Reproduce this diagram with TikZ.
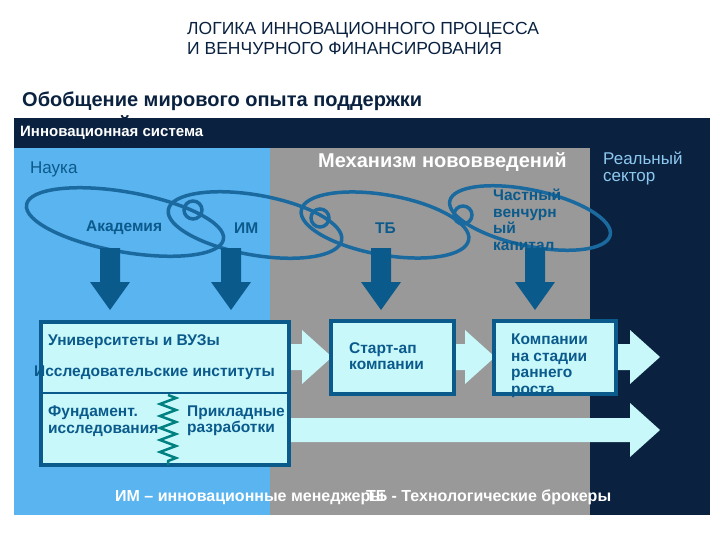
\documentclass[tikz,border=0pt]{standalone}
\usepackage{fontspec}
\setmainfont{Liberation Sans}
\usetikzlibrary{decorations.pathmorphing}
\definecolor{navy}{HTML}{0A2240}
\definecolor{sky}{HTML}{5AB4F0}
\definecolor{gr}{HTML}{999999}
\definecolor{dblue}{HTML}{0B5A8C}
\definecolor{loop}{HTML}{1A6AA0}
\definecolor{cyanbox}{HTML}{C8F8FA}
\definecolor{teal2}{HTML}{008080}
\definecolor{rs}{HTML}{8EC8F0}
\tikzset{
 lbl/.style={inner sep=0pt,anchor=west,font=\bfseries\fontsize{15.5}{16.5}\selectfont},
 boxs/.style={draw=dblue,line width=4pt,fill=cyanbox,inner sep=0pt},
 lp/.style={draw=loop,line width=3.5pt},
 dn/.pic={\fill[dblue] (-10,-34) -- (10,-34) -- (10,0) -- (20,0) -- (0,28) -- (-20,0) -- (-10,0) -- cycle;},
}
\newcommand{\larrow}[5]{% x1 x2 yc shafthalf headhalf
 \fill[cyanbox] (#1,#3-#4) -- (#2-30,#3-#4) -- (#2-30,#3-#5) -- (#2,#3) -- (#2-30,#3+#5) -- (#2-30,#3+#4) -- (#1,#3+#4) -- cycle;}
\begin{document}
\begin{tikzpicture}[x=1pt,y=-1pt]
\useasboundingbox[fill=white] (0,0) rectangle (720,540);
\node[anchor=west,inner sep=0pt,text=navy,font=\fontsize{17.5}{20}\selectfont,align=left] (title) at (187,38) {ЛОГИКА ИННОВАЦИОННОГО ПРОЦЕССА\\И ВЕНЧУРНОГО ФИНАНСИРОВАНИЯ};
\node[anchor=west,inner sep=0pt,text=navy,font=\bfseries\fontsize{20}{21}\selectfont] (sub) at (22,101) {Обобщение мирового опыта поддержки};
\node[anchor=west,inner sep=0pt,text=navy,font=\bfseries\fontsize{20}{21}\selectfont] (sub2) at (22,125) {инноваций};
\fill[navy] (14,118) rectangle (710,515);
\fill[sky] (14,148) rectangle (270,515);
\fill[gr] (270,148) rectangle (590,515);
\node[lbl,text=white,font=\bfseries\fontsize{15}{16}\selectfont] (sys) at (20,133) {Инновационная система};
\node[lbl,text=dblue,font=\fontsize{17}{18}\selectfont] (nauka) at (30,169) {Наука};
\node[lbl,text=white,font=\bfseries\fontsize{20}{21}\selectfont] (mech) at (318,162) {Механизм нововведений};
\node[lbl,text=rs,align=left,font=\fontsize{17}{17}\selectfont] (real) at (603,168) {Реальный\\сектор};
% loops
\draw[lp,rotate around={-10:(125,222)}] (125,222) ellipse (100 and 30);
\draw[lp,rotate around={-10:(255,225)}] (255,225) ellipse (88 and 30);
\draw[lp,rotate around={-10:(385,225)}] (385,225) ellipse (85 and 30);
\draw[lp,rotate around={-12:(530,218)}] (530,218) ellipse (82 and 28);
\draw[lp] (193,210) circle (9);
\draw[lp] (320,218) circle (9);
\draw[lp] (463,215) circle (9);
\node[lbl,text=dblue] (akad) at (86,228) {Академия};
\node[lbl,text=dblue] (im) at (234,228) {ИМ};
\node[lbl,text=dblue] (tb) at (375,228) {ТБ};
\node[lbl,text=dblue,align=left] (vk) at (493,220) {Частный\\венчурн\\ый\\капитал};
% down arrows
\pic at (110,282) {dn};
\pic at (231,282) {dn};
\pic at (381,282) {dn};
\pic at (535,282) {dn};
% light arrows
\larrow{288}{332}{357}{13}{27}
\larrow{452}{495}{357}{13}{27}
\larrow{614}{660}{357}{13}{27}
\larrow{284}{660}{430}{12}{27}
% boxes
\node[boxs,minimum width=248pt,minimum height=143pt] (b1) at (165,393) {};
\draw[dblue,line width=2pt] (b1.west |- 0,393) -- (b1.east |- 0,393);
\node[boxs,minimum width=123pt,minimum height=73pt] (b2) at (392,357) {};
\node[boxs,minimum width=122pt,minimum height=73pt] (b3) at (555,357) {};
\node[lbl,text=dblue] (uni) at (48,342) {Университеты и ВУЗы};
\node[lbl,text=dblue] (inst) at (34,373) {Исследовательские институты};
\node[lbl,text=dblue,align=left] (fund) at (48,421) {Фундамент.\\исследования};
\node[lbl,text=dblue,align=left] (prik) at (187,421) {Прикладные\\разработки};
\node[lbl,text=dblue,align=left] (st) at (349,356) {Старт-ап\\компании};
\node[lbl,text=dblue,align=left] (comp) at (511,366) {Компании\\на стадии\\раннего\\роста};
\draw[teal2,line width=2.5pt,decoration={zigzag,segment length=12pt,amplitude=8pt},decorate] (168,395) -- (168,465);
\node[lbl,text=white,font=\bfseries\fontsize{16}{17}\selectfont] (leg) at (115,497) {ИМ – инновационные менеджеры\hspace{-18pt}ТБ - Технологические брокеры};
\end{tikzpicture}
\end{document}
